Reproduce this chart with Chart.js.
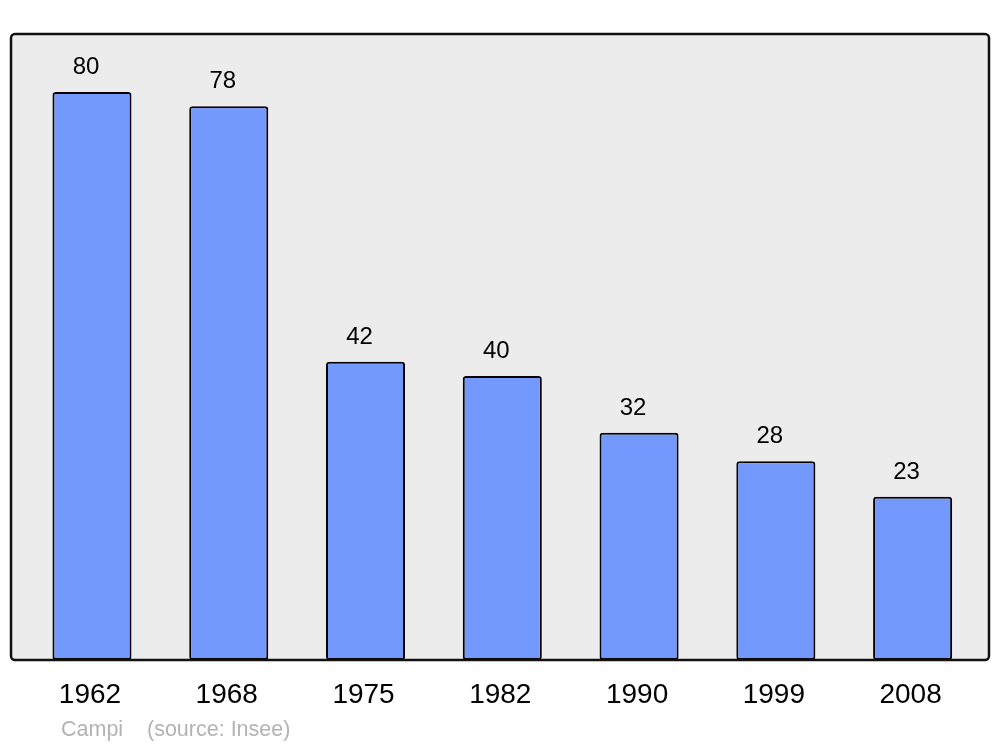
<!DOCTYPE html>
<html>
<head>
<meta charset="utf-8">
<script src="https://cdn.jsdelivr.net/npm/chart.js@4/dist/chart.umd.min.js"></script>
<style>
  html, body { margin: 0; padding: 0; background: #ffffff; }
  #wrap { width: 1000px; height: 747px; }
</style>
</head>
<body>
<div id="wrap"><canvas id="popChart" width="1000" height="747"></canvas></div>
<script>
const years = ["1962", "1968", "1975", "1982", "1990", "1999", "2008"];
const population = [80, 78, 42, 40, 32, 28, 23];
const placeName = "Campi";
const sourceNote = "(source: Insee)";

const FONT = "'Liberation Sans', Arial, sans-serif";

// grey panel behind the bars, with the black frame on top
const panelPlugin = {
  id: "panel",
  beforeDatasetsDraw(chart) {
    const ctx = chart.ctx;
    ctx.save();
    ctx.fillStyle = "#ececec";
    ctx.beginPath();
    ctx.roundRect(11, 34, 978, 626, 4);
    ctx.fill();
    ctx.restore();
  },
  afterDatasetsDraw(chart) {
    const ctx = chart.ctx;
    const meta = chart.getDatasetMeta(0);
    const xScale = chart.scales.x;

    ctx.save();
    ctx.strokeStyle = "#111111";
    ctx.lineWidth = 2.5;
    ctx.beginPath();
    ctx.roundRect(11, 34, 978, 626, 4);
    ctx.stroke();

    // value labels above bars (sit a little left of centre in the original)
    ctx.fillStyle = "#000000";
    ctx.textAlign = "center";
    ctx.textBaseline = "alphabetic";
    ctx.font = "24px " + FONT;
    meta.data.forEach((bar, i) => {
      ctx.fillText(String(population[i]), bar.x - 6, bar.y - 18);
    });

    // year labels under the panel
    ctx.textBaseline = "middle";
    ctx.font = "28px " + FONT;
    years.forEach((year, i) => {
      ctx.fillText(year, xScale.getPixelForValue(i) - 2, 695);
    });

    // footer
    ctx.fillStyle = "#b3b3b3";
    ctx.textAlign = "left";
    ctx.font = "21.5px " + FONT;
    ctx.fillText(placeName, 61, 730);
    ctx.fillText(sourceNote, 147, 730);
    ctx.restore();
  }
};

new Chart(document.getElementById("popChart"), {
  type: "bar",
  data: {
    labels: years,
    datasets: [{
      data: population,
      backgroundColor: "#7399ff",
      borderColor: "#000000",
      borderWidth: 2,
      borderSkipped: false,
      borderRadius: 3,
      barPercentage: 0.578,
      categoryPercentage: 1
    }]
  },
  options: {
    responsive: false,
    animation: false,
    layout: {
      padding: { left: 23.6, right: 19, top: 34, bottom: 87 }
    },
    plugins: {
      legend: { display: false },
      tooltip: { enabled: false }
    },
    scales: {
      x: { display: false },
      y: { display: false, min: 0, max: 88.17 }
    }
  },
  plugins: [panelPlugin]
});
</script>
</body>
</html>
